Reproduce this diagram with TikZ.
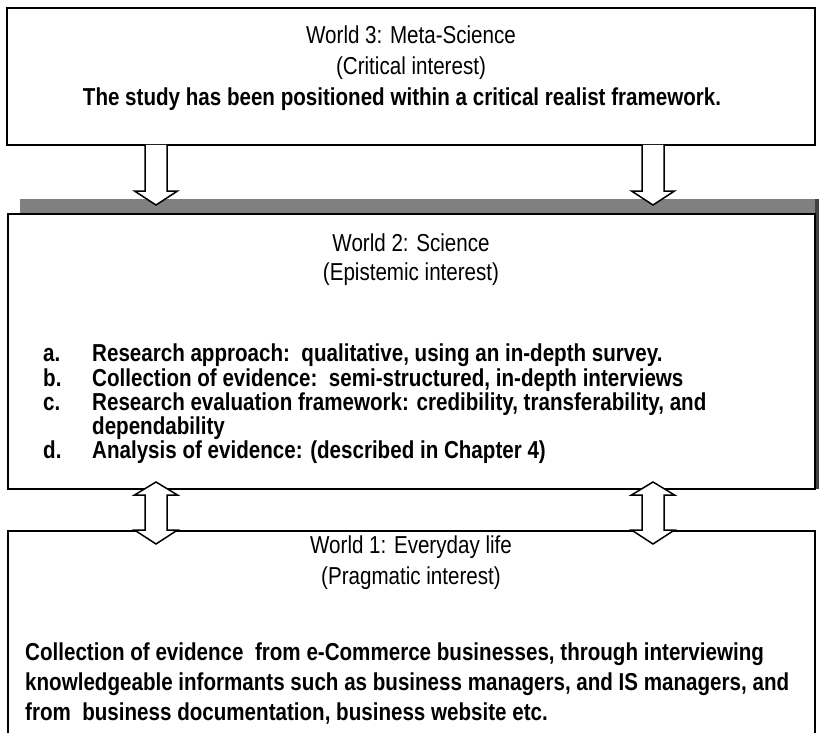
\documentclass[tikz,border=0pt]{standalone}
\usepackage{fontspec}
\setmainfont{Liberation Sans}[FakeStretch=0.84]
\usetikzlibrary{calc}
\begin{document}
\begin{tikzpicture}[x=1pt,y=-1pt,
  box/.style={draw=black, line width=1.7pt, fill=white, rectangle, inner sep=0pt, outer sep=0pt, anchor=north west},
  blockarrow/.style={draw=black, line width=1.5pt, fill=white, line join=miter},
  plain/.style={inner sep=0pt, anchor=base, font=\fontsize{24.5}{26}\selectfont},
  strong/.style={plain, font=\fontsize{24.5}{26}\selectfont\bfseries},
  item/.style={strong, anchor=base west},
]
\useasboundingbox (0,0) rectangle (819,733);
\clip (0,0) rectangle (819,733);

% columns of the connecting arrows
\coordinate (colL) at (156,0);
\coordinate (colR) at (653,0);

% shaded strip above and beside the middle box
\fill[black!50] (20,199) rectangle (819,213);
\fill[black!75] (815,199) rectangle (819,489);

% the three boxes
\node[box, minimum width=808pt, minimum height=137pt] (world3) at (7,8) {};
\node[box, minimum width=807pt, minimum height=275pt] (world2) at (8,214) {};
\node[box, minimum width=807pt, minimum height=222pt] (world1) at (8,531) {};

% World 3 text
\node[plain] (w3title) at (411,44) {World 3: Meta-Science};
\node[plain] (w3int) at (411,75) {(Critical interest)};
\node[strong] (w3body) at (402,106) {The study has been positioned within a critical realist framework.};

% World 2 text
\node[plain] (w2title) at (411,251) {World 2: Science};
\node[plain] (w2int) at (411,280) {(Epistemic interest)};
\node[item] (la) at (43,361) {a.};
\node[item] (ta) at (92,361) {Research approach:\ \ qualitative, using an in-depth survey.};
\node[item] (lb) at (43,386) {b.};
\node[item] (tb) at (92,386) {Collection of evidence:\ \ semi-structured, in-depth interviews};
\node[item] (lc) at (43,410) {c.};
\node[item] (tc) at (92,410) {Research evaluation framework: credibility, transferability, and};
\node[item] (tc2) at (92,434) {dependability};
\node[item] (ld) at (43,458) {d.};
\node[item] (td) at (92,458) {Analysis of evidence: (described in Chapter 4)};

% World 1 text
\node[plain] (w1title) at (411,553) {World 1: Everyday life};
\node[plain] (w1int) at (411,584) {(Pragmatic interest)};
\node[item] (b1) at (25,660) {Collection of evidence\ \ from e-Commerce businesses, through interviewing};
\node[item] (b2) at (25,690) {knowledgeable informants such as business managers, and IS managers, and};
\node[item] (b3) at (25,720) {from\ \ business documentation, business website etc.};

% downward block arrows from World 3 to World 2
\foreach \c/\n in {colL/L, colR/R} {
  \coordinate (d\n a) at (world3.south -| \c);
  \coordinate (d\n b) at ($(world2.north -| \c)+(0,-9)$);
  \draw[blockarrow] ($(d\n a)+(-11,0)$) -- ($(d\n b)+(-11,-14)$) -- ($(d\n b)+(-21.5,-14)$)
    -- (d\n b) -- ($(d\n b)+(21.5,-14)$) -- ($(d\n b)+(11,-14)$) -- ($(d\n a)+(11,0)$);
}

% two-headed block arrows between World 2 and World 1
\foreach \c/\n in {colL/L, colR/R} {
  \coordinate (u\n a) at ($(world2.south -| \c)+(0,-7)$);
  \coordinate (u\n b) at ($(world1.north -| \c)+(0,13)$);
  \draw[blockarrow] (u\n a) -- ($(u\n a)+(21.5,13)$) -- ($(u\n a)+(11,13)$)
    -- ($(u\n b)+(11,-14)$) -- ($(u\n b)+(21.5,-14)$) -- (u\n b)
    -- ($(u\n b)+(-21.5,-14)$) -- ($(u\n b)+(-11,-14)$)
    -- ($(u\n a)+(-11,13)$) -- ($(u\n a)+(-21.5,13)$) -- cycle;
}
\end{tikzpicture}
\end{document}
